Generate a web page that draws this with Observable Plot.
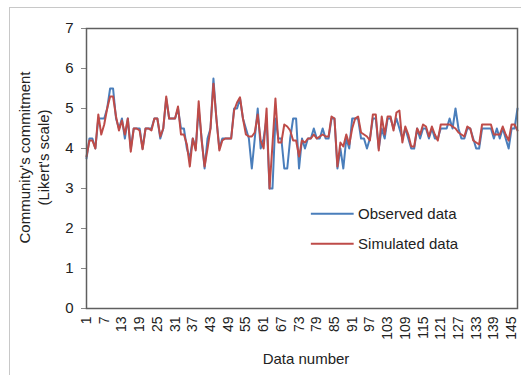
<!DOCTYPE html>
<html>
<head>
<meta charset="utf-8">
<script src="https://cdn.jsdelivr.net/npm/d3@7"></script>
<script src="https://cdn.jsdelivr.net/npm/@observablehq/plot@0.6"></script>
<style>
  html, body { margin: 0; padding: 0; background: #fff; }
  #wrap { position: relative; width: 521px; height: 375px; overflow: hidden; }
  #border { position: absolute; left: 9px; top: 7px; width: 600px; height: 400px;
            border-left: 1px solid #c8c8c8; border-top: 1px solid #c8c8c8; }
  #chart { position: absolute; left: 0; top: 0; }
</style>
</head>
<body>
<div id="wrap"><div id="border"></div><div id="chart"></div></div>
<script>
const seriesNames = ["Observed data", "Simulated data"];
const seriesColors = ["#4a7ebb", "#be4b48"];

const observed = [
  3.75, 4.25, 4.25, 4.0, 4.75, 4.75, 4.75, 5.0, 5.5, 5.5,
  4.75, 4.5, 4.75, 4.25, 4.75, 4.0, 4.5, 4.5, 4.5, 4.0,
  4.5, 4.5, 4.5, 4.75, 4.75, 4.25, 4.5, 5.25, 4.75, 4.75,
  4.75, 5.0, 4.5, 4.5, 4.0, 3.75, 4.25, 4.0, 5.0, 4.25,
  3.5, 4.25, 4.5, 5.75, 4.75, 4.0, 4.25, 4.25, 4.25, 4.25,
  5.0, 5.0, 5.25, 4.75, 4.5, 4.25, 3.5, 4.25, 5.0, 4.0,
  4.25, 4.75, 3.0, 3.0, 4.75, 4.25, 4.25, 3.5, 3.5, 4.25,
  4.75, 4.75, 3.5, 4.25, 4.0, 4.25, 4.25, 4.5, 4.25, 4.25,
  4.5, 4.25, 4.25, 4.75, 4.75, 3.5, 4.0, 3.5, 4.25, 4.0, 4.75,
  4.75, 4.75, 4.25, 4.25, 4.0, 4.25, 4.75, 4.75, 4.0, 4.5,
  4.25, 4.75, 4.75, 4.5, 4.75, 4.5, 4.25, 4.5, 4.25, 4.0,
  4.0, 4.5, 4.25, 4.5, 4.5, 4.25, 4.5, 4.25, 4.25, 4.5,
  4.5, 4.5, 4.75, 4.5, 5.0, 4.5, 4.25, 4.25, 4.5, 4.5,
  4.25, 4.0, 4.0, 4.5, 4.5, 4.5, 4.5, 4.25, 4.5, 4.25,
  4.5, 4.25, 4.0, 4.5, 4.5, 5.0
];

const simulated = [
  3.8, 4.2, 4.2, 4.0, 4.85, 4.35, 4.6, 5.0, 5.3, 5.3,
  4.8, 4.45, 4.7, 4.35, 4.75, 3.92, 4.5, 4.5, 4.45, 3.98,
  4.5, 4.5, 4.45, 4.75, 4.75, 4.3, 4.5, 5.3, 4.75, 4.75,
  4.75, 5.05, 4.35, 4.35, 4.1, 3.55, 4.25, 3.95, 5.18, 4.2,
  3.55, 4.0, 4.5, 5.62, 4.75, 3.95, 4.2, 4.25, 4.25, 4.25,
  4.95, 5.15, 5.28, 4.75, 4.35, 4.3, 4.3, 4.4, 4.85, 4.2,
  4.0, 5.0, 3.0, 4.1, 5.25, 4.15, 4.15, 4.6, 4.55, 4.45,
  4.2, 4.2, 3.8, 4.2, 4.15, 4.25, 4.25, 4.35, 4.25, 4.3,
  4.35, 4.3, 4.3, 4.8, 4.75, 3.55, 4.15, 4.05, 4.35, 4.1, 4.5,
  4.75, 4.8, 4.4, 4.35, 4.3, 4.2, 4.85, 4.85, 3.95, 4.8,
  4.35, 4.8, 4.8, 4.45, 4.9, 4.95, 4.15, 4.55, 4.35, 4.05,
  4.05, 4.5, 4.35, 4.6, 4.55, 4.3, 4.55, 4.35, 4.2, 4.6,
  4.6, 4.6, 4.6, 4.55, 4.5, 4.4, 4.35, 4.3, 4.55, 4.5,
  4.2, 4.15, 4.1, 4.6, 4.6, 4.6, 4.6, 4.35, 4.35, 4.35,
  4.55, 4.35, 4.2, 4.6, 4.6, 4.45
];

const xTicks = [1, 7, 13, 19, 25, 31, 37, 43, 49, 55, 61, 67, 73, 79, 85, 91, 97, 103, 109, 115, 121, 127, 133, 139, 145];
const yTicks = [0, 1, 2, 3, 4, 5, 6, 7];
const xTitle = "Data number";
const yTitle = "Community's commitment\n(Likert's scale)";

// legend placement in data units (inside the plot area)
const legendX1 = [77, 77];
const legendX2 = [91.5, 91.5];
const legendY = [2.37, 1.62];
const legendTextX = [93, 93];

const n = Math.max(observed.length, simulated.length);
const obsData = observed.map((v, i) => ({x: i + 1, y: v}));
const simData = simulated.map((v, i) => ({x: i + 1, y: v}));
const legend = seriesNames.map((name, i) => ({
  name, color: seriesColors[i], x1: legendX1[i], x2: legendX2[i], y: legendY[i], tx: legendTextX[i]
}));

const font = "'Liberation Sans', Arial, Helvetica, sans-serif";

const chart = Plot.plot({
  width: 521,
  height: 375,
  marginLeft: 86,
  marginRight: 4,
  marginTop: 28,
  marginBottom: 67,
  style: {fontFamily: font, fontSize: "15px", color: "#222", background: "transparent", overflow: "visible"},
  x: {domain: [1, n], axis: null},
  y: {domain: [0, 7], axis: null},
  marks: [
    Plot.axisY({ticks: yTicks, tickSize: 5, tickPadding: 8, tickFormat: d => String(d),
                fontSize: 15, stroke: "#888", label: null, fill: "#222"}),
    Plot.axisX({ticks: xTicks, tickSize: 0, tickPadding: 8, tickRotate: -90, tickFormat: d => String(d),
                fontSize: 14, label: null, fill: "#222"}),
    Plot.lineY(obsData, {x: "x", y: "y", stroke: seriesColors[0], strokeWidth: 2}),
    Plot.lineY(simData, {x: "x", y: "y", stroke: seriesColors[1], strokeWidth: 2}),
    Plot.frame({stroke: "#5f5f5f", strokeWidth: 1.5}),
    Plot.link(legend, {x1: "x1", x2: "x2", y1: "y", y2: "y", stroke: "color", strokeWidth: 2}),
    Plot.text(legend, {x: "tx", y: "y", text: "name", textAnchor: "start", fontSize: 15, fill: "#222"}),
    Plot.text([xTitle], {frameAnchor: "bottom", textAnchor: "middle", lineAnchor: "middle",
                         dy: 51, dx: 4, fontSize: 15, fill: "#222"}),
    Plot.text([yTitle], {frameAnchor: "left", textAnchor: "middle", lineAnchor: "middle",
                         dx: -53, dy: -11, rotate: -90, fontSize: 15, lineHeight: 1.3, fill: "#222"})
  ]
});
document.getElementById("chart").appendChild(chart);
</script>
</body>
</html>
